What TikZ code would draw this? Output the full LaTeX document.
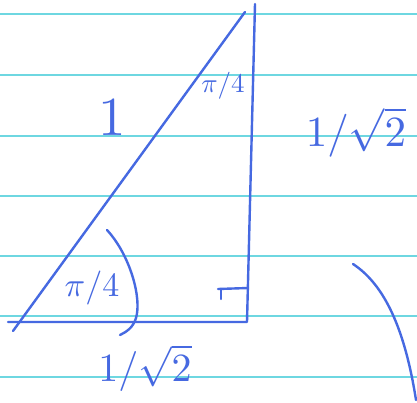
\documentclass[tikz,border=0pt]{standalone}
\usepackage{amsmath}
\definecolor{ink}{RGB}{70,105,225}
\definecolor{rulecol}{RGB}{110,215,225}
\begin{document}
\begin{tikzpicture}[x=1pt,y=-1pt,
  pen/.style={draw=ink,line width=2.4pt,line cap=round,line join=round},
  lbl/.style={text=ink,inner sep=0pt}]
\useasboundingbox (0,0) rectangle (417,402);
\fill[white] (0,0) rectangle (417,402);
\foreach \y in {14,75,136,196,256,316,377}
  \draw[rulecol,line width=1.2pt] (0,\y) -- (417,\y);
% triangle
\coordinate (A) at (13,331);
\coordinate (B) at (245,12);
\coordinate (T) at (255,4);
\coordinate (C) at (247,322);
\coordinate (L) at (8,322);
\draw[pen] (A) -- (B);
\draw[pen] (T) -- (C) -- (L);
% right angle mark
\coordinate (R1) at (218,289);
\coordinate (R2) at (248,288);
\coordinate (R3) at (221,290);
\coordinate (R4) at (221,299);
\draw[pen] (R1) -- (R2);
\draw[pen] (R3) -- (R4);
% angle arc
\coordinate (P1) at (107,230);
\coordinate (P2) at (136,318);
\coordinate (P3) at (120,335);
\draw[pen] (P1) .. controls (130,255) and (142,298) .. (P2) .. controls (133,328) and (126,332) .. (P3);
% right arc
\coordinate (Q1) at (353,264);
\coordinate (Q2) at (416,400);
\draw[pen] (Q1) .. controls (385,285) and (405,330) .. (Q2);
% labels
\node[lbl] (one) at (112,118) {\scalebox{5.5}{$1$}};
\node[lbl] (topang) at (223,86) {\scalebox{2.7}{$\pi/4$}};
\node[lbl] (botang) at (92,288) {\scalebox{3.4}{$\pi/4$}};
\node[lbl] (side) at (356,132) {\scalebox{4.3}{$1/\sqrt{2}$}};
\node[lbl] (base) at (145,368) {\scalebox{4}{$1/\sqrt{2}$}};
\end{tikzpicture}
\end{document}
